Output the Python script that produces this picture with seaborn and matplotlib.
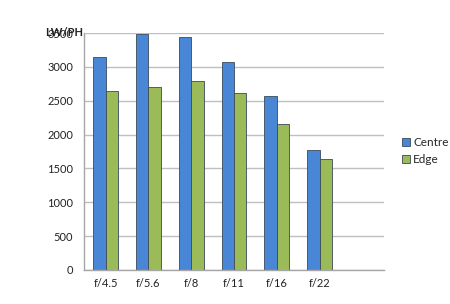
import matplotlib
matplotlib.use("Agg")
import matplotlib.pyplot as plt
import seaborn as sns
import pandas as pd
import numpy as np
from matplotlib.patches import Patch

categories = ["f/4.5", "f/5.6", "f/8", "f/11", "f/16", "f/22"]
centre = [3150, 3490, 3450, 3070, 2570, 1780]
edge = [2650, 2700, 2790, 2610, 2160, 1640]
series = ["Centre", "Edge"]
yticks = [0, 500, 1000, 1500, 2000, 2500, 3000, 3500]

sns.set_style("white")
plt.rcParams['font.family'] = ['Lato', 'DejaVu Sans']

df = pd.DataFrame({
    "cat": categories * 2,
    "val": centre + edge,
    "series": [series[0]] * len(categories) + [series[1]] * len(categories),
})
order = categories + [" "]
colors = {"Centre": "#4A86D6", "Edge": "#9BBB59"}

fig = plt.figure(figsize=(4.5, 3.04), dpi=100)
ax = fig.add_axes([0.187, 0.112, 0.666, 0.779])
sns.barplot(data=df, x="cat", y="val", hue="series", order=order,
            palette=colors, saturation=1, width=0.58, ax=ax, legend=False,
            edgecolor="#3A4A5A", linewidth=0.6)
ax.set_xlim(-0.5, len(order) - 0.5)
ax.set_ylim(0, 3500)
ax.set_yticks(yticks)
ax.yaxis.grid(True, color="#BFBFBF", linewidth=1)
ax.set_axisbelow(True)
ax.set_xlabel("")
ax.set_ylabel("")
for s in ["top", "right"]:
    ax.spines[s].set_visible(False)
for s in ["left", "bottom"]:
    ax.spines[s].set_color("#A6A6A6")
    ax.spines[s].set_linewidth(1)
ax.set_xticks(range(len(order)))
ax.set_xticklabels(order)
ax.set_xticks(np.arange(-0.5, len(order), 1.0), minor=True)
ax.tick_params(axis="x", which="major", length=0, labelsize=8, pad=6, colors="#222222")
ax.tick_params(axis="x", which="minor", length=4, width=1, color="#A6A6A6", direction="out")
ax.tick_params(axis="y", length=4, width=1, color="#A6A6A6", labelsize=8, pad=4, labelcolor="#222222")
ax.tick_params(axis="x", labelcolor="#222222")

fig.text(45 / 450, 1 - 33 / 304, "LW/PH", fontsize=8, fontweight="bold",
         va="center", ha="left", color="#222222")

handles = [Patch(facecolor=colors[s], edgecolor="#3A4A5A", linewidth=0.6, label=s) for s in series]
fig.legend(handles=handles, loc="center left", bbox_to_anchor=(396 / 450, 1 - 151 / 304),
           frameon=False, fontsize=8.5, handlelength=0.7, handleheight=0.7,
           handletextpad=0.25, labelspacing=0.5, borderpad=0)

fig.savefig("out.png", dpi=100)
